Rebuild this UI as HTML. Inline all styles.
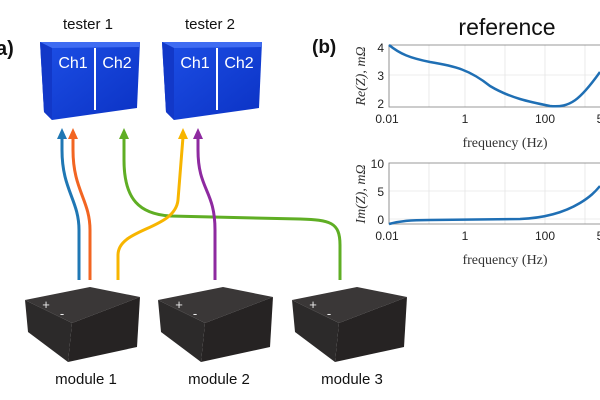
<!DOCTYPE html>
<html><head><style>
body{margin:0;background:#fff;}
svg{display:block;font-family:"Liberation Sans",sans-serif;}
</style></head><body>
<svg width="600" height="400" viewBox="0 0 600 400">
<defs>
<linearGradient id="tb" x1="0" y1="0" x2="1" y2="1"><stop offset="0" stop-color="#1d4fe6"/><stop offset="1" stop-color="#0b32c4"/></linearGradient>
</defs>
<text x="-4" y="55" font-size="20" font-weight="bold" fill="#111">a)</text>
<text x="88" y="29" font-size="15" text-anchor="middle" fill="#111">tester 1</text>
<text x="210" y="29" font-size="15" text-anchor="middle" fill="#111">tester 2</text>
<g id="t">
<polygon points="40,42 140,42 137,108 52,120 44,112" fill="url(#tb)"/>
<polygon points="40,42 140,42 139,47 52,48" fill="#3f6cf2"/>
<polygon points="40,42 52,48 52,120 44,112" fill="#1238c8"/>
<line x1="95" y1="48" x2="95" y2="110" stroke="#fff" stroke-width="2"/>
<text x="73" y="68" font-size="16" fill="#fff" text-anchor="middle">Ch1</text>
<text x="117" y="68" font-size="16" fill="#fff" text-anchor="middle">Ch2</text>
</g>
<use href="#t" x="122"/>
<g fill="none" stroke-width="3">
<path d="M79,280 L79,230 C79,200 62,190 62,150 L62,137" stroke="#1f77b4"/>
<path d="M90,280 L90,230 C90,200 73,190 73,150 L73,137" stroke="#f26522"/>
<path d="M340,280 L340,245 C340,222 330,220 300,219 L170,216 C140,214 124,200 124,160 L124,137" stroke="#5fae24"/>
<path d="M118,280 L118,255 C118,228 175,230 178,200 L183,137" stroke="#f7b500"/>
<path d="M215,280 L215,230 C215,190 198,190 198,150 L198,137" stroke="#8e2aa0"/>
</g>
<g>
<polygon points="62,128 57,139 67,139" fill="#1f77b4"/>
<polygon points="73,128 68,139 78,139" fill="#f26522"/>
<polygon points="124,128 119,139 129,139" fill="#5fae24"/>
<polygon points="183,128 178,139 188,139" fill="#f7b500"/>
<polygon points="198,128 193,139 203,139" fill="#8e2aa0"/>
</g>
<g id="m">
<polygon points="25,300 90,287 140,297 72,323" fill="#3a3737"/>
<polygon points="25,300 72,323 68,362 28,332" fill="#2c2a2a"/>
<polygon points="72,323 140,297 137,347 68,362" fill="#262323"/>
<text x="46" y="309" font-size="13" fill="#eee" text-anchor="middle">+</text>
<text x="62" y="318" font-size="13" fill="#eee" text-anchor="middle">-</text>
</g>
<use href="#m" x="133"/>
<use href="#m" x="267"/>
<text x="86" y="384" font-size="15" text-anchor="middle" fill="#111">module 1</text>
<text x="219" y="384" font-size="15" text-anchor="middle" fill="#111">module 2</text>
<text x="352" y="384" font-size="15" text-anchor="middle" fill="#111">module 3</text>
<text x="312" y="53" font-size="19" font-weight="bold" fill="#111">(b)</text>
<text x="507" y="35" font-size="23" text-anchor="middle" fill="#111">reference</text>
<g stroke="#ddd" stroke-width="0.6">
<line x1="429" y1="45" x2="429" y2="107"/><line x1="465" y1="45" x2="465" y2="107"/><line x1="505" y1="45" x2="505" y2="107"/><line x1="545" y1="45" x2="545" y2="107"/><line x1="585" y1="45" x2="585" y2="107"/>
<line x1="389" y1="75" x2="600" y2="75"/>
<line x1="429" y1="163" x2="429" y2="224"/><line x1="465" y1="163" x2="465" y2="224"/><line x1="505" y1="163" x2="505" y2="224"/><line x1="545" y1="163" x2="545" y2="224"/><line x1="585" y1="163" x2="585" y2="224"/>
<line x1="389" y1="191" x2="600" y2="191"/><line x1="389" y1="219" x2="600" y2="219"/>
</g>
<path d="M600,45 L389,45 L389,107 L600,107" fill="none" stroke="#777" stroke-width="0.8"/>
<path d="M600,163 L389,163 L389,224 L600,224" fill="none" stroke="#777" stroke-width="0.8"/>
<path d="M389,45 C400,54 410,58 430,62 C455,66 470,70 490,86 C510,98 530,102 550,106 C570,108 580,100 600,72" fill="none" stroke="#1f6fb4" stroke-width="2.5"/>
<path d="M389,224 C400,221 410,220 430,220 L520,219 C545,218 565,212 580,203 C590,197 595,192 600,186" fill="none" stroke="#1f6fb4" stroke-width="2.5"/>
<g font-size="12" fill="#222" text-anchor="end">
<text x="384" y="52">4</text><text x="384" y="80">3</text><text x="384" y="108">2</text>
<text x="384" y="168">10</text><text x="384" y="196">5</text><text x="384" y="224">0</text>
</g>
<g font-size="12" fill="#222" text-anchor="middle">
<text x="387" y="123">0.01</text><text x="465" y="123">1</text><text x="545" y="123">100</text><text x="600" y="123">5</text>
<text x="387" y="240">0.01</text><text x="465" y="240">1</text><text x="545" y="240">100</text><text x="600" y="240">5</text>
</g>
<g font-family="'Liberation Serif',serif" font-size="14" fill="#333" text-anchor="middle">
<text x="505" y="147">frequency (Hz)</text>
<text x="505" y="264">frequency (Hz)</text>
<text transform="translate(365,76) rotate(-90)" font-style="italic">Re(Z), mΩ</text>
<text transform="translate(365,194) rotate(-90)" font-style="italic">Im(Z), mΩ</text>
</g>
</svg>
</body></html>
